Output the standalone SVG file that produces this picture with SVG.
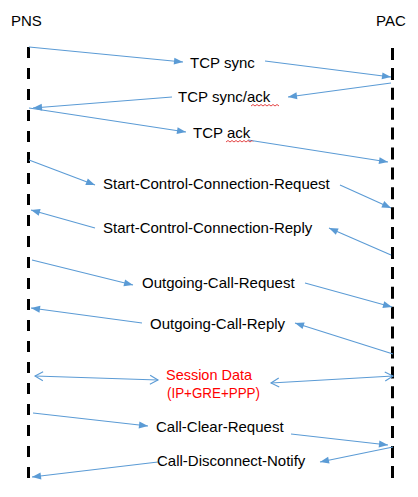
<svg xmlns="http://www.w3.org/2000/svg" width="418" height="497" viewBox="0 0 418 497">
<style>
text{font-family:"Liberation Sans",Arial,sans-serif;font-size:15px;fill:#000}
.red{fill:#FF0000}
.life{stroke:#000;stroke-width:3;fill:none}
.msg{stroke:#5B9BD5;stroke-width:1.1;fill:none;marker-end:url(#ah)}
.dbl{stroke:#5B9BD5;stroke-width:1.1;fill:none;marker-end:url(#oh);marker-start:url(#oh)}
.sq{stroke:#E03030;stroke-width:0.9;fill:none}
</style>
<defs>
<marker id="ah" markerUnits="userSpaceOnUse" markerWidth="9" markerHeight="7" refX="9" refY="3.5" orient="auto" overflow="visible">
<path d="M0,0 L9,3.5 L0,7 z" fill="#5B9BD5"/>
</marker>
<marker id="oh" markerUnits="userSpaceOnUse" markerWidth="9" markerHeight="10" refX="8" refY="4.5" orient="auto-start-reverse" overflow="visible">
<path d="M0,0 L8,4.5 L0,9" fill="none" stroke="#5B9BD5" stroke-width="1.1"/>
</marker>
</defs>
<g id="PNS">
<text x="11" y="26">PNS</text>
<line class="life" x1="28.5" y1="47" x2="28.5" y2="478" stroke-dasharray="11 10"/>
</g>
<g id="PAC">
<text x="376" y="26">PAC</text>
<line class="life" x1="392.5" y1="48" x2="392.5" y2="478" stroke-dasharray="12 7.9"/>
</g>
<g id="connectors">
<line class="msg" x1="29" y1="47" x2="183" y2="62"/>
<line class="msg" x1="265" y1="61" x2="391" y2="77"/>
<line class="msg" x1="391" y1="83" x2="288" y2="97"/>
<line class="msg" x1="172" y1="97" x2="33" y2="108"/>
<line class="msg" x1="29" y1="108" x2="186" y2="132"/>
<line class="msg" x1="248" y1="140" x2="388" y2="162"/>
<line class="msg" x1="29" y1="160" x2="95" y2="185"/>
<line class="msg" x1="340" y1="185" x2="391" y2="208"/>
<line class="msg" x1="391" y1="255" x2="329" y2="228"/>
<line class="msg" x1="95" y1="228" x2="31" y2="210"/>
<line class="msg" x1="32" y1="260" x2="133" y2="285"/>
<line class="msg" x1="305" y1="283" x2="392" y2="307"/>
<line class="msg" x1="393" y1="354" x2="295" y2="323"/>
<line class="msg" x1="142" y1="323" x2="31" y2="308"/>
<line class="dbl" x1="35" y1="376" x2="158" y2="380"/>
<line class="dbl" x1="271" y1="383" x2="393" y2="376"/>
<line class="msg" x1="33" y1="413" x2="148" y2="426"/>
<line class="msg" x1="291" y1="434" x2="388" y2="445"/>
<line class="msg" x1="393" y1="447" x2="320" y2="462"/>
<line class="msg" x1="158" y1="462" x2="32" y2="477"/>
</g>
<g id="labels">
<text x="190" y="68">TCP sync</text>
<text x="178" y="102">TCP sync/ack</text>
<path class="sq" d="M251,106 l2,-1.5 l2,1.5 l2,-1.5 l2,1.5 l2,-1.5 l2,1.5 l2,-1.5 l2,1.5 l2,-1.5 l2,1.5 l2,-1.5 l2,1.5 l2,-1.5 l2,1.5"/>
<text x="193" y="138">TCP ack</text>
<path class="sq" d="M226,142 l2,-1.5 l2,1.5 l2,-1.5 l2,1.5 l2,-1.5 l2,1.5 l2,-1.5 l2,1.5 l2,-1.5 l2,1.5 l2,-1.5 l2,1.5 l2,-1.5 l1,1"/>
<text x="103" y="189">Start-Control-Connection-Request</text>
<text x="103" y="233">Start-Control-Connection-Reply</text>
<text x="142" y="288">Outgoing-Call-Request</text>
<text x="150" y="329">Outgoing-Call-Reply</text>
<text class="red" x="166" y="380" textLength="86" lengthAdjust="spacingAndGlyphs">Session Data</text>
<text class="red" x="167" y="398" textLength="93" lengthAdjust="spacingAndGlyphs">(IP+GRE+PPP)</text>
<text x="156" y="432">Call-Clear-Request</text>
<text x="157" y="466">Call-Disconnect-Notify</text>
</g>
</svg>
